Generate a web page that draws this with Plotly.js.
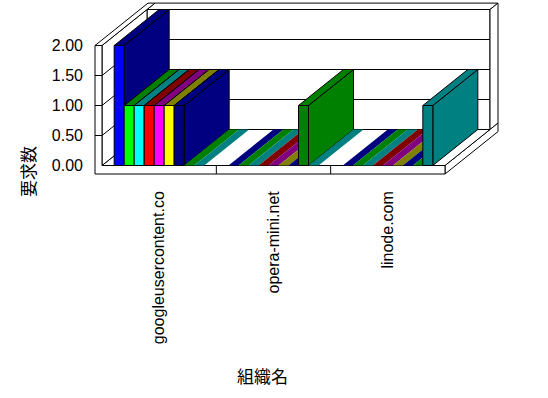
<!DOCTYPE html>
<html><head><meta charset="utf-8">
<script src="https://cdn.plot.ly/plotly-3.0.1.min.js"></script>
<style>html,body{margin:0;padding:0;background:#fff;}</style>
</head><body><div id="chart" style="width:548px;height:398px;"></div>
<script>
// ---- data ----
const categories = ['googleusercontent.co', 'opera-mini.net', 'linode.com'];
const series1 = [2, 0, 0];
const series2 = [1, 0, 0];
const series3 = [1, 0, 0];
const series4 = [1, 0, 0];
const series5 = [1, 0, 0];
const series6 = [1, 0, 0];
const series7 = [1, 0, 0];
const series8 = [0, 1, 0];
const series9 = [0, 0, 1];
const yTickValues = [0, 0.5, 1, 1.5, 2];
const yTickLabels = ['0.00', '0.50', '1.00', '1.50', '2.00'];
const xTitle = '組織名';
const yTitle = '要求数';

// ---- styles ----
const seriesValues = [series1, series2, series3, series4, series5, series6, series7, series8, series9];
const frontColors = ['#0000FF', '#00FF00', '#00FFFF', '#FF0000', '#FF00FF', '#FFFF00', '#000080', '#008000', '#008080'];
const darkColors  = ['#000080', '#008000', '#008080', '#800000', '#800080', '#808000', '#000080', '#008000', '#008080'];

// ---- geometry (pixels of the picture) ----
const W = 548, H = 398;
const plotL = 92, plotR = 502, plotT = 0, plotB = 178;
const frontL = 102, frontR = 445, zeroPx = 165.5, maxPx = 45.5;
const yMax = yTickValues[yTickValues.length - 1];
const nC = categories.length, nS = seriesValues.length;
const U = (frontR - frontL) / nC;       // px per category
const V = (zeroPx - maxPx) / yMax;      // px per value unit
const xL = -0.5, xR = nC - 0.5;
const xRange = [xL - (frontL - plotL) / U, xR + (plotR - frontR) / U];
const yRange = [-(plotB - zeroPx) / V, yMax + (maxPx - plotT) / V];
const DX = 45 / U, DY = 36 / V;          // depth offset
const T = 8 / 45;                        // back wall thickness (in depth units)
const wt = 7 / U, ft = 8.5 / V;          // left wall / floor thickness
const bw = 10 / U;                       // bar width

function P(x, y, z) { return [x + z * DX, y + z * DY]; }
function pathOf(pts) { return 'M' + pts.map(p => p[0] + ',' + p[1]).join('L') + 'Z'; }
function lineOf(a, b) { return 'M' + a[0] + ',' + a[1] + 'L' + b[0] + ',' + b[1]; }
const ln = {color: '#000', width: 1};
function face(pts) { return {type: 'path', xref: 'x', yref: 'y', layer: 'below', path: pathOf(pts), fillcolor: '#fff', line: ln}; }
function seg(a, b) { return {type: 'path', xref: 'x', yref: 'y', layer: 'below', path: lineOf(a, b), line: ln}; }

const shapes = [];
// back wall
shapes.push(face([P(xL,0,1), P(xR,0,1), P(xR,yMax,1), P(xL,yMax,1)]));
yTickValues.forEach(v => { if (v > 0 && v < yMax) shapes.push(seg(P(xL,v,1), P(xR,v,1))); });
shapes.push(face([P(xL,yMax,1), P(xR,yMax,1), P(xR,yMax,1+T), P(xL,yMax,1+T)]));
shapes.push(face([P(xR,0,1), P(xR,yMax,1), P(xR,yMax,1+T), P(xR,0,1+T)]));
// floor
shapes.push(face([P(xR,0,0), P(xR,-ft,0), P(xR,-ft,1+T), P(xR,0,1+T)]));
shapes.push(face([P(xL,0,0), P(xR,0,0), P(xR,0,1), P(xL,0,1)]));
// left wall
shapes.push(face([P(xL,0,0), P(xL,yMax,0), P(xL,yMax,1), P(xL,0,1)]));
yTickValues.forEach(v => { if (v > 0 && v < yMax) shapes.push(seg(P(xL,v,0), P(xL,v,1))); });
shapes.push(face([P(xL-wt,yMax,0), P(xL,yMax,0), P(xL,yMax,1+T), P(xL-wt,yMax,1+T)]));
shapes.push(face([P(xL-wt,-ft,0), P(xR,-ft,0), P(xR,0,0), P(xL,0,0), P(xL,yMax,0), P(xL-wt,yMax,0)]));
yTickValues.forEach(v => { if (v > 0 && v < yMax) shapes.push(seg(P(xL-wt,v,0), P(xL,v,0))); });
for (let k = 1; k < nC; k++) shapes.push(seg(P(xL+k,-ft,0), P(xL+k,0,0)));

// bars (painted left to right)
const traces = [];
function poly(pts, color, stroke) {
  const xs = pts.map(p => p[0]).concat([pts[0][0]]);
  const ys = pts.map(p => p[1]).concat([pts[0][1]]);
  traces.push({type: 'scatter', mode: 'lines', x: xs, y: ys, fill: 'toself', fillcolor: color,
    line: stroke ? {color: '#000', width: 1} : {color: color, width: 0},
    hoverinfo: 'skip', showlegend: false});
}
categories.forEach((cat, ci) => {
  seriesValues.forEach((vals, si) => {
    const v = vals[ci];
    const x0 = ci - nS * bw / 2 + si * bw, x1 = x0 + bw;
    if (v > 0) {
      poly([P(x1,0,0), P(x1,v,0), P(x1,v,1), P(x1,0,1)], darkColors[si], true);
      poly([P(x0,v,0), P(x1,v,0), P(x1,v,1), P(x0,v,1)], darkColors[si], true);
      poly([P(x0,0,0), P(x1,0,0), P(x1,v,0), P(x0,v,0)], frontColors[si], true);
    } else {
      poly([P(x0,0,0), P(x1,0,0), P(x1,0,1), P(x0,0,1)], darkColors[si], false);
    }
  });
});

const tickFont = {family: 'Liberation Sans, Arial, sans-serif', size: 16, color: '#000'};
const plotW = plotR - plotL, plotH = plotB - plotT;
const layout = {
  width: W, height: H,
  margin: {l: plotL, r: W - plotR, t: plotT, b: H - plotB, pad: 0},
  paper_bgcolor: '#fff', plot_bgcolor: 'rgba(0,0,0,0)',
  showlegend: false,
  xaxis: {range: xRange, showgrid: false, zeroline: false, showline: false, ticks: '',
    tickmode: 'array', tickvals: categories.map((c, i) => i), ticktext: categories,
    tickangle: -90, tickfont: tickFont, ticklabelstandoff: 9, fixedrange: true},
  yaxis: {range: yRange, showgrid: false, zeroline: false, showline: false, ticks: '',
    tickmode: 'array', tickvals: yTickValues, ticktext: yTickLabels,
    tickfont: tickFont, ticklabelstandoff: 8, fixedrange: true},
  shapes: shapes,
  annotations: [
    {text: xTitle, xref: 'paper', yref: 'paper', x: (262 - plotL) / plotW, y: (plotB - 376) / plotH,
     xanchor: 'center', yanchor: 'middle', showarrow: false,
     font: {family: 'Noto Sans CJK JP', size: 17, color: '#000'}},
    {text: yTitle, xref: 'paper', yref: 'paper', x: (27 - plotL) / plotW, y: (plotB - 172) / plotH,
     xanchor: 'center', yanchor: 'middle', textangle: -90, showarrow: false,
     font: {family: 'Noto Sans CJK JP', size: 17, color: '#000'}}
  ]
};
Plotly.newPlot('chart', traces, layout, {displayModeBar: false, staticPlot: true});
</script>
</body></html>
